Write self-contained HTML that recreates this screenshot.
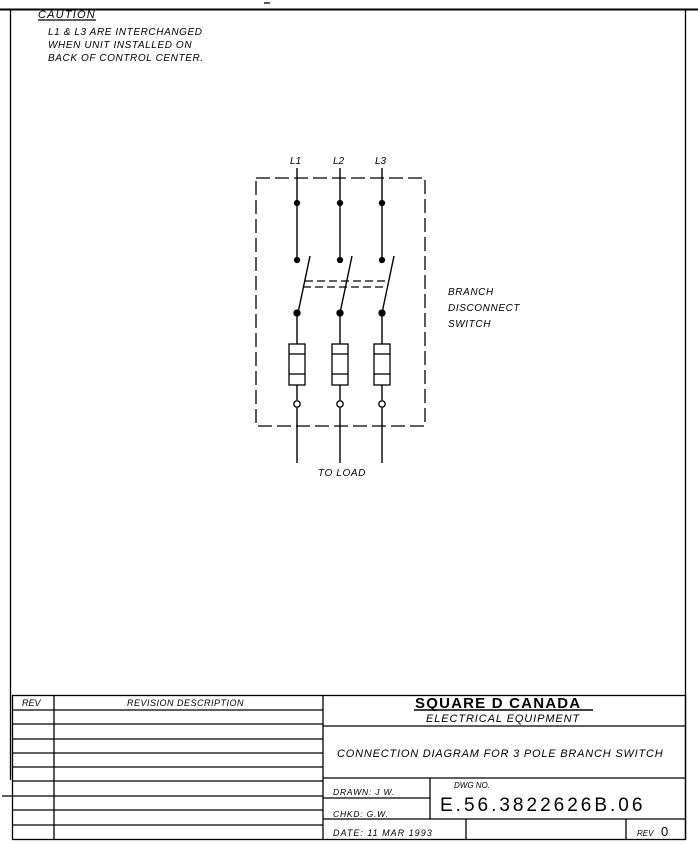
<!DOCTYPE html>
<html><head><meta charset="utf-8"><style>
html,body{margin:0;padding:0;background:#fff;}
svg{display:block;}
text{font-family:"Liberation Sans",sans-serif;fill:#000;}
</style></head><body>
<svg width="698" height="844" viewBox="0 0 698 844" xmlns="http://www.w3.org/2000/svg">
<g stroke="#000" fill="none" stroke-width="1.3">
<line x1="0" y1="9.5" x2="698" y2="9.5" stroke-width="2"/>
<line x1="10.5" y1="9" x2="10.5" y2="780" stroke-width="1.3"/>
<line x1="685.5" y1="9" x2="685.5" y2="840" stroke-width="1.3"/>
<line x1="264" y1="3" x2="270" y2="3"/>
<!-- diagram -->
<rect x="256" y="178" width="169" height="248" stroke-dasharray="14,5" stroke-width="1.3"/>
<g stroke-width="1.4">
<line x1="297" y1="168" x2="297" y2="261"/><line x1="340" y1="168" x2="340" y2="261"/><line x1="382" y1="168" x2="382" y2="261"/>
<line x1="298" y1="313" x2="310" y2="256"/><line x1="340" y1="313" x2="352" y2="256"/><line x1="382" y1="313" x2="394" y2="256"/>
<line x1="297" y1="313" x2="297" y2="400"/><line x1="340" y1="313" x2="340" y2="400"/><line x1="382" y1="313" x2="382" y2="400"/>
<line x1="297" y1="408" x2="297" y2="463"/><line x1="340" y1="408" x2="340" y2="463"/><line x1="382" y1="408" x2="382" y2="463"/>
</g>
<line x1="305" y1="281" x2="388" y2="281" stroke-dasharray="8,4"/>
<line x1="303" y1="287" x2="386" y2="287" stroke-dasharray="8,4"/>
<g fill="#000">
<circle cx="297" cy="203" r="2.5"/><circle cx="340" cy="203" r="2.5"/><circle cx="382" cy="203" r="2.5"/>
<circle cx="297" cy="260" r="2.5"/><circle cx="340" cy="260" r="2.5"/><circle cx="382" cy="260" r="2.5"/>
<circle cx="297" cy="313" r="3"/><circle cx="340" cy="313" r="3"/><circle cx="382" cy="313" r="3"/>
</g>
<g fill="#fff" stroke-width="1.3">
<rect x="289" y="344" width="16" height="41"/><rect x="332" y="344" width="16" height="41"/><rect x="374" y="344" width="16" height="41"/>
<circle cx="297" cy="404" r="3.2"/><circle cx="340" cy="404" r="3.2"/><circle cx="382" cy="404" r="3.2"/>
</g>
<line x1="289" y1="354" x2="305" y2="354"/><line x1="289" y1="374" x2="305" y2="374"/>
<line x1="332" y1="354" x2="348" y2="354"/><line x1="332" y1="374" x2="348" y2="374"/>
<line x1="374" y1="354" x2="390" y2="354"/><line x1="374" y1="374" x2="390" y2="374"/>
<!-- title block -->
<rect x="12.5" y="695.5" width="673" height="144"/>
<line x1="54" y1="695" x2="54" y2="840"/>
<line x1="323" y1="695" x2="323" y2="840"/>
<line x1="12" y1="710" x2="323" y2="710"/>
<line x1="12" y1="724" x2="323" y2="724"/>
<line x1="12" y1="739" x2="323" y2="739"/>
<line x1="12" y1="753" x2="323" y2="753"/>
<line x1="12" y1="767" x2="323" y2="767"/>
<line x1="12" y1="781" x2="323" y2="781"/>
<line x1="12" y1="796" x2="323" y2="796"/>
<line x1="12" y1="810" x2="323" y2="810"/>
<line x1="12" y1="825" x2="323" y2="825"/>
<line x1="2" y1="796" x2="12" y2="796"/>
<line x1="323" y1="726" x2="686" y2="726"/>
<line x1="323" y1="778" x2="686" y2="778"/>
<line x1="323" y1="798" x2="430" y2="798"/>
<line x1="430" y1="778" x2="430" y2="819"/>
<line x1="323" y1="819" x2="686" y2="819"/>
<line x1="466" y1="819" x2="466" y2="840"/>
<line x1="626" y1="819" x2="626" y2="840"/>
<line x1="414" y1="710" x2="593" y2="710" stroke-width="1.6"/>
<line x1="38" y1="20" x2="96" y2="20"/>
</g>
<g font-size="10" font-style="italic">
<text x="38" y="18" font-size="11" letter-spacing="1.2">CAUTION</text>
<text x="48" y="35" letter-spacing="0.6">L1 &amp; L3 ARE INTERCHANGED</text>
<text x="48" y="48" letter-spacing="0.6">WHEN UNIT INSTALLED ON</text>
<text x="48" y="61" letter-spacing="0.6">BACK OF CONTROL CENTER.</text>
<text x="290" y="164">L1</text><text x="333" y="164">L2</text><text x="375" y="164">L3</text>
<text x="448" y="295" letter-spacing="0.6">BRANCH</text>
<text x="448" y="311" letter-spacing="0.6">DISCONNECT</text>
<text x="448" y="327" letter-spacing="0.6">SWITCH</text>
<text x="318" y="476" letter-spacing="0.6">TO LOAD</text>
<text x="22" y="706" font-size="9">REV</text>
<text x="127" y="706" font-size="9" letter-spacing="0.5">REVISION DESCRIPTION</text>
<text x="426" y="722" font-size="11" letter-spacing="0.9">ELECTRICAL EQUIPMENT</text>
<text x="337" y="757" font-size="11" letter-spacing="0.8">CONNECTION DIAGRAM FOR 3 POLE BRANCH SWITCH</text>
<text x="333" y="795" font-size="8.5" letter-spacing="0.8">DRAWN: J W.</text>
<text x="333" y="817" font-size="8.5" letter-spacing="0.8">CHKD: G.W.</text>
<text x="454" y="788" font-size="8">DWG NO.</text>
<text x="333" y="836" font-size="9" letter-spacing="1">DATE: 11 MAR 1993</text>
<text x="637" y="836" font-size="8">REV</text>
</g>
<text x="415" y="708" font-size="15" font-weight="bold" letter-spacing="1.2">SQUARE D CANADA</text>
<text x="440" y="811" font-size="19" letter-spacing="3">E.56.3822626B.06</text>
<text x="661" y="836" font-size="13">0</text>
</svg>
</body></html>
